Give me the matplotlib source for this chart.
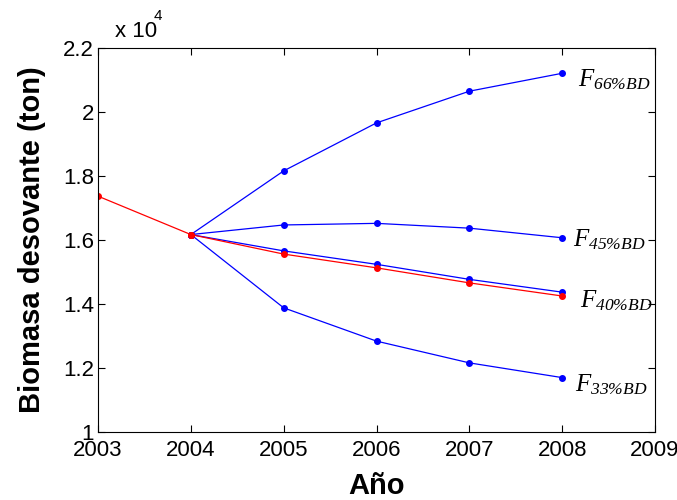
import matplotlib.pyplot as plt
from matplotlib.ticker import FormatStrFormatter

plt.rcParams['font.family'] = 'Liberation Sans'
plt.rcParams['mathtext.fontset'] = 'custom'
plt.rcParams['mathtext.it'] = 'Liberation Serif:italic'
plt.rcParams['mathtext.rm'] = 'Liberation Serif:italic'

# biomass in units of 10^4 ton
years_hist = [2003, 2004]
hist = [1.737, 1.617]
years_proj = [2004, 2005, 2006, 2007, 2008]
f66 = [1.617, 1.816, 1.966, 2.065, 2.121]
f45 = [1.617, 1.647, 1.652, 1.637, 1.607]
f40 = [1.617, 1.566, 1.524, 1.477, 1.437]
f33 = [1.617, 1.388, 1.284, 1.216, 1.170]
red_proj = [1.617, 1.556, 1.513, 1.466, 1.425]

labels = ['66%BD', '45%BD', '40%BD', '33%BD']
label_pos = [(2008.17, 2.10), (2008.12, 1.60), (2008.19, 1.409), (2008.14, 1.148)]

fig = plt.figure(figsize=(6.77, 5.0), dpi=100)
ax = fig.add_axes([0.1448, 0.136, 0.8227, 0.768])

for s in [f66, f45, f40, f33]:
    ax.plot(years_proj, s, color='blue', lw=0.9, marker='o', ms=4)
ax.plot(years_hist, hist, color='red', lw=0.9, marker='o', ms=4)
ax.plot(years_proj, red_proj, color='red', lw=0.9, marker='o', ms=4)

for lab, (x, y) in zip(labels, label_pos):
    ax.text(x, y, r'$F_{%s}$' % lab.replace('%', r'\%'), fontsize=18,
            ha='left', va='center')

ax.set_xlim(2003, 2009)
ax.set_ylim(1, 2.2)
ax.set_xticks(range(2003, 2010))
ax.set_yticks([1, 1.2, 1.4, 1.6, 1.8, 2.0, 2.2])
ax.yaxis.set_major_formatter(FormatStrFormatter('%g'))
ax.tick_params(direction='in', top=True, right=True, labelsize=16, length=5, width=0.8)
ax.tick_params(axis='x', pad=6)
ax.tick_params(axis='y', pad=3)
for sp in ax.spines.values():
    sp.set_linewidth(0.8)

ax.text(0.03, 1.015, 'x 10', transform=ax.transAxes, fontsize=16, ha='left', va='bottom')
ax.text(0.1, 1.065, '4', transform=ax.transAxes, fontsize=11, ha='left', va='bottom')

ax.set_ylabel('Biomasa desovante (ton)', fontsize=21, fontweight='bold', labelpad=12)
ax.set_xlabel('Año', fontsize=21, fontweight='bold', labelpad=8)

fig.savefig('out.png')
